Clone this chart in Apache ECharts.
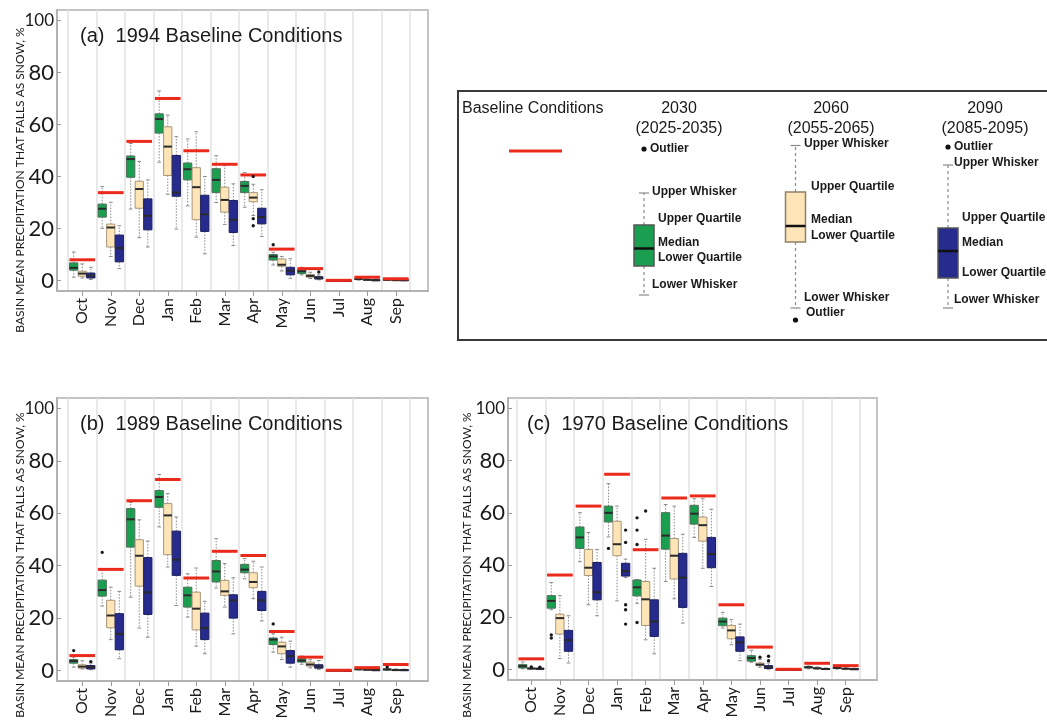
<!DOCTYPE html>
<html>
<head>
<meta charset="utf-8">
<title>Basin mean precipitation that falls as snow</title>
<script src="https://cdn.jsdelivr.net/npm/echarts@6/dist/echarts.min.js"></script>
<style>
  html, body { margin: 0; padding: 0; background: #ffffff; }
  #chart { width: 1047px; height: 722px; }
</style>
</head>
<body>
<div id="chart"></div>
<script>
// ---- categories and tick labels ----
const months = ['Oct', 'Nov', 'Dec', 'Jan', 'Feb', 'Mar', 'Apr', 'May', 'Jun', 'Jul', 'Aug', 'Sep'];
const yTicks = [0, 20, 40, 60, 80, 100];

// ---- box statistics per month: [lower whisker, lower quartile, median, upper quartile, upper whisker] ----
// (a) 1994 baseline
const snow1994_2030 = [
  [1.3, 4.0, 4.9, 6.8, 11.0], [20.1, 24.4, 27.6, 29.4, 36.1], [27.5, 39.7, 46.7, 47.9, 52.7],
  [45.5, 56.7, 62.1, 64.1, 72.9], [28.7, 38.7, 42.8, 45.2, 54.4], [30.0, 33.8, 38.7, 43.0, 48.0],
  [28.2, 33.8, 36.4, 38.1, 41.5], [6.0, 7.9, 9.3, 10.0, 10.9], [2.2, 2.7, 3.6, 4.2, 5.1],
  [0, 0, 0, 0.05, 0.1], [0.2, 0.4, 0.6, 0.8, 1.1], [0.1, 0.2, 0.3, 0.5, 0.7]
];
const snow1994_2060 = [
  [1.0, 1.7, 2.7, 3.6, 6.4], [9.3, 12.9, 20.4, 21.7, 30.1], [16.5, 27.8, 35.2, 38.2, 45.8],
  [33.2, 40.4, 51.5, 59.1, 63.6], [16.7, 23.4, 35.9, 43.4, 57.2], [21.6, 26.3, 31.0, 35.9, 44.2],
  [25.0, 30.3, 31.9, 33.8, 37.0], [3.7, 5.5, 6.1, 8.3, 9.3], [0.8, 1.3, 1.8, 2.3, 3.2],
  [0, 0, 0, 0.05, 0.1], [0.1, 0.2, 0.3, 0.5, 0.8], [0, 0.1, 0.2, 0.3, 0.5]
];
const snow1994_2090 = [
  [0.4, 1.0, 1.9, 2.9, 5.1], [4.6, 7.2, 12.5, 17.5, 21.1], [12.9, 19.5, 24.9, 31.4, 38.7],
  [19.8, 32.4, 33.8, 48.1, 55.3], [10.3, 18.9, 25.5, 32.8, 40.0], [13.5, 18.5, 23.4, 30.8, 37.2],
  [17.0, 21.8, 24.4, 27.8, 34.9], [0.9, 2.2, 3.8, 5.1, 8.4], [0.3, 0.6, 1.0, 1.5, 2.2],
  [0, 0, 0, 0.05, 0.1], [0, 0.1, 0.2, 0.3, 0.6], [0, 0.1, 0.2, 0.3, 0.5]
];
const baseline1994 = [8.0, 33.8, 53.5, 70.0, 49.9, 44.7, 40.6, 12.1, 4.6, 0.1, 1.3, 0.7];
// outliers: [month index, period index (0 = 2030, 1 = 2060, 2 = 2090), value]
const outliers1994 = [[7, 0, 13.8], [6, 1, 40.0], [6, 1, 23.8], [6, 1, 21.1], [8, 2, 3.3]];

// (b) 1989 baseline
const snow1989_2030 = [
  [1.3, 2.8, 3.6, 4.2, 5.1], [24.6, 28.4, 30.7, 34.5, 38.5], [28.0, 47.1, 57.7, 61.8, 64.1],
  [54.8, 62.3, 66.2, 68.7, 74.8], [20.4, 24.2, 28.7, 31.8, 36.9], [31.5, 33.8, 37.8, 42.0, 50.3],
  [35.0, 37.3, 38.5, 40.5, 42.7], [7.0, 9.9, 11.8, 12.4, 14.0], [2.4, 3.2, 3.8, 4.5, 5.5],
  [0, 0, 0, 0.05, 0.1], [0.2, 0.3, 0.5, 0.7, 1.0], [0.1, 0.3, 0.4, 0.6, 1.0]
];
const snow1989_2060 = [
  [0.6, 0.9, 1.5, 2.2, 3.7], [11.8, 16.3, 21.0, 26.8, 31.8], [16.2, 32.2, 43.8, 49.9, 57.5],
  [39.5, 44.2, 59.2, 63.7, 67.5], [9.3, 15.5, 23.6, 29.9, 39.1], [24.2, 28.7, 30.2, 34.4, 40.8],
  [27.4, 31.6, 33.8, 37.3, 41.7], [4.2, 6.4, 9.2, 10.8, 12.7], [1.0, 1.7, 2.3, 3.2, 4.1],
  [0, 0, 0, 0.05, 0.1], [0.1, 0.2, 0.3, 0.5, 0.8], [0, 0.1, 0.2, 0.3, 0.6]
];
const snow1989_2090 = [
  [0.3, 0.6, 1.3, 1.9, 2.8], [4.5, 7.9, 14.0, 21.7, 30.2], [12.7, 21.4, 29.8, 43.1, 49.4],
  [24.8, 36.3, 42.3, 53.2, 58.6], [6.4, 11.8, 16.2, 21.9, 26.4], [14.0, 20.0, 26.8, 28.9, 35.4],
  [18.9, 22.9, 26.8, 30.2, 39.5], [1.3, 2.8, 5.5, 7.6, 11.2], [0.4, 0.9, 1.5, 2.2, 3.8],
  [0, 0, 0, 0.05, 0.1], [0, 0.1, 0.2, 0.3, 0.6], [0, 0.1, 0.2, 0.3, 0.5]
];
const baseline1989 = [5.7, 38.6, 64.8, 72.9, 35.3, 45.5, 43.9, 14.9, 5.1, 0.1, 1.1, 2.3];
const outliers1989 = [[0, 0, 7.6], [1, 0, 45.1], [7, 0, 17.8], [0, 2, 3.4], [11, 0, 1.3]];

// (c) 1970 baseline
const snow1970_2030 = [
  [0.3, 0.6, 1.3, 1.9, 2.9], [22.9, 23.5, 26.3, 28.3, 33.3], [41.3, 46.4, 50.6, 54.6, 60.1],
  [50.8, 56.5, 60.0, 62.6, 71.2], [25.4, 28.2, 31.5, 34.3, 34.5], [33.7, 46.1, 51.3, 60.1, 63.2],
  [50.6, 55.7, 59.7, 62.9, 65.4], [15.9, 16.8, 18.4, 19.7, 21.9], [2.8, 3.2, 4.4, 5.3, 7.4],
  [0, 0, 0, 0.05, 0.1], [0.3, 0.6, 0.9, 1.1, 1.4], [0.2, 0.4, 0.6, 0.8, 1.1]
];
const snow1970_2060 = [
  [0, 0.2, 0.4, 0.6, 1.0], [4.2, 13.6, 19.7, 21.2, 28.3], [24.8, 36.0, 39.0, 46.0, 52.5],
  [26.3, 43.6, 48.0, 56.8, 62.6], [11.4, 16.9, 26.9, 33.7, 49.9], [27.1, 34.7, 43.6, 50.2, 62.6],
  [38.8, 49.2, 55.3, 58.4, 65.4], [9.5, 11.8, 15.0, 16.9, 19.1], [0.9, 1.5, 1.9, 2.5, 3.8],
  [0, 0, 0, 0.05, 0.1], [0.1, 0.3, 0.5, 0.7, 1.0], [0, 0.2, 0.3, 0.5, 0.8]
];
const snow1970_2090 = [
  [0, 0.1, 0.3, 0.5, 0.8], [2.5, 7.0, 11.2, 15.0, 20.6], [20.6, 26.7, 29.6, 41.0, 46.0],
  [35.2, 35.8, 37.7, 40.7, 42.3], [6.0, 12.7, 18.4, 26.7, 38.8], [17.8, 23.8, 35.2, 44.5, 51.8],
  [31.8, 39.0, 44.2, 50.6, 61.4], [3.4, 7.0, 10.4, 12.5, 17.4], [0.1, 0.4, 0.9, 1.5, 2.5],
  [0, 0, 0, 0.05, 0.1], [0, 0.1, 0.2, 0.4, 0.6], [0, 0.1, 0.2, 0.3, 0.5]
];
const baseline1970 = [4.1, 36.2, 62.6, 74.8, 45.9, 65.7, 66.5, 24.8, 8.6, 0.1, 2.4, 1.5];
const outliers1970 = [
  [1, 0, 13.3], [1, 0, 12.1], [3, 0, 46.4],
  [4, 0, 58.1], [4, 0, 53.4], [4, 0, 47.9], [4, 0, 18.0], [4, 1, 60.7],
  [3, 2, 53.4], [3, 2, 48.7], [3, 2, 24.8], [3, 2, 22.9], [3, 2, 17.4],
  [8, 1, 4.7], [8, 2, 5.1], [8, 2, 3.4], [0, 1, 1.0], [0, 2, 0.9]
];

// ---- styling ----
const periodFill = ['#1a9e50', '#fde5b8', '#262b8d'];
const periodBorder = ['#4f6f5a', '#a8967a', '#1c1f5c'];
const baselineRed = '#ec2a1c';
const axisGrey = '#b3b3b3';
const yName = 'BASIN MEAN PRECIPITATION THAT FALLS AS SNOW, %';

// ---- panel layout ----
const panels = [
  { title: '(a)  1994 Baseline Conditions', stats: [snow1994_2030, snow1994_2060, snow1994_2090],
    baseline: baseline1994, outliers: outliers1994,
    frame: { left: 57, top: 10, width: 371, height: 281 }, plot: { left: 68, width: 342 },
    titlePos: [80, 36], namePos: [20, 180] },
  { title: '(b)  1989 Baseline Conditions', stats: [snow1989_2030, snow1989_2060, snow1989_2090],
    baseline: baseline1989, outliers: outliers1989,
    frame: { left: 57, top: 398, width: 371, height: 283 }, plot: { left: 68, width: 342 },
    titlePos: [80, 424], namePos: [20, 565] },
  { title: '(c)  1970 Baseline Conditions', stats: [snow1970_2030, snow1970_2060, snow1970_2090],
    baseline: baseline1970, outliers: outliers1970,
    frame: { left: 508, top: 398, width: 369, height: 282 }, plot: { left: 517, width: 343 },
    titlePos: [527, 424], namePos: [467, 565] }
];

// ---- renderers (custom series, positioned through the axes) ----
function slotX(api, idx, slot) {
  const center = api.coord([idx, 0])[0];
  const band = api.size([1, 0])[0];
  return { cx: center + (slot - 1) * band * 0.3, band: band };
}

function boxItem(slot) {
  return function (params, api) {
    const idx = api.value(0);
    const pos = slotX(api, idx, slot);
    const half = pos.band * 0.145;
    const capHalf = half * 0.45;
    const y = v => api.coord([idx, v])[1];
    const yMin = y(api.value(1)), yQ1 = y(api.value(2)), yMed = y(api.value(3));
    const yQ3 = y(api.value(4)), yMax = y(api.value(5));
    const cx = pos.cx;
    const whisker = { stroke: '#8a8a8a', lineWidth: 1, lineDash: [1.5, 1.5] };
    const cap = { stroke: '#8a8a8a', lineWidth: 1 };
    return {
      type: 'group',
      children: [
        { type: 'line', shape: { x1: cx, y1: yQ3, x2: cx, y2: yMax }, style: whisker },
        { type: 'line', shape: { x1: cx, y1: yQ1, x2: cx, y2: yMin }, style: whisker },
        { type: 'line', shape: { x1: cx - capHalf, y1: yMax, x2: cx + capHalf, y2: yMax }, style: cap },
        { type: 'line', shape: { x1: cx - capHalf, y1: yMin, x2: cx + capHalf, y2: yMin }, style: cap },
        { type: 'rect', shape: { x: cx - half, y: yQ3, width: half * 2, height: Math.max(yQ1 - yQ3, 1) },
          style: { fill: periodFill[slot], stroke: periodBorder[slot], lineWidth: 1 } },
        { type: 'line', shape: { x1: cx - half, y1: yMed, x2: cx + half, y2: yMed },
          style: { stroke: '#2a2a2a', lineWidth: 2 } }
      ]
    };
  };
}

function baselineItem(params, api) {
  const idx = api.value(0);
  const p = api.coord([idx, api.value(1)]);
  const band = api.size([1, 0])[0];
  return { type: 'line', shape: { x1: p[0] - band * 0.45, y1: p[1], x2: p[0] + band * 0.45, y2: p[1] },
           style: { stroke: baselineRed, lineWidth: 3 } };
}

function outlierItem(params, api) {
  const idx = api.value(0);
  const pos = slotX(api, idx, api.value(1));
  const yv = api.coord([idx, api.value(2)])[1];
  return { type: 'circle', shape: { cx: pos.cx, cy: yv, r: 1.7 }, style: { fill: '#1a1a1a' } };
}

// ---- build option ----
const grids = [], xAxes = [], yAxes = [], series = [], graphics = [];

panels.forEach(p => {
  const fi = grids.length;
  // frame grid: box outline, value axis with labels
  grids.push({ left: p.frame.left, top: p.frame.top, width: p.frame.width, height: p.frame.height,
               show: true, borderColor: '#c4c4c4', borderWidth: 2, backgroundColor: 'transparent' });
  // plotting grid: month bands
  grids.push({ left: p.plot.left, top: p.frame.top, width: p.plot.width, height: p.frame.height });

  xAxes.push({ gridIndex: fi, type: 'value', min: 0, max: 1,
    axisLine: { show: true, onZero: false, lineStyle: { color: axisGrey, width: 2 } },
    axisTick: { show: false }, axisLabel: { show: false }, splitLine: { show: false } });
  yAxes.push({ gridIndex: fi, type: 'value', min: -4, max: 104,
    axisLine: { show: true, onZero: false, lineStyle: { color: axisGrey, width: 2 } },
    axisTick: { show: true, inside: true, length: 4, customValues: yTicks, lineStyle: { color: '#9a9a9a' } },
    axisLabel: { customValues: yTicks, margin: 3, fontFamily: 'Lato', fontSize: 22, color: '#1a1a1a',
      formatter: v => (v === 100 ? '{s|100}' : String(v)),
      rich: { s: { fontFamily: 'Lato', fontSize: 17, color: '#1a1a1a' } } },
    splitLine: { show: false } });

  xAxes.push({ gridIndex: fi + 1, type: 'category', data: months, boundaryGap: true,
    axisLine: { show: false, onZero: false },
    axisTick: { show: true, alignWithLabel: true, interval: 0, length: 5, lineStyle: { color: '#9a9a9a' } },
    axisLabel: { interval: 0, rotate: 90, margin: 7, fontFamily: 'Lato', fontSize: 16, color: '#1a1a1a' },
    splitLine: { show: true, interval: 0, lineStyle: { color: '#e2e2e2', width: 1.5 } } });
  yAxes.push({ gridIndex: fi + 1, type: 'value', min: -4, max: 104, show: false });

  p.stats.forEach((st, s) => {
    series.push({ type: 'custom', name: ['2030', '2060', '2090'][s], xAxisIndex: fi + 1, yAxisIndex: fi + 1,
      renderItem: boxItem(s), data: st.map((v, i) => [i].concat(v)),
      encode: { x: 0, y: [1, 2, 3, 4, 5] }, clip: false, silent: true, z: 2 });
  });
  series.push({ type: 'custom', name: 'Baseline', xAxisIndex: fi + 1, yAxisIndex: fi + 1,
    renderItem: baselineItem, data: p.baseline.map((v, i) => [i, v]),
    encode: { x: 0, y: 1 }, clip: false, silent: true, z: 3 });
  series.push({ type: 'custom', name: 'Outlier', xAxisIndex: fi + 1, yAxisIndex: fi + 1,
    renderItem: outlierItem, data: p.outliers,
    encode: { x: 0, y: 2 }, clip: false, silent: true, z: 4 });

  graphics.push({ type: 'text', x: p.titlePos[0], y: p.titlePos[1], silent: true, z: 100,
    style: { text: p.title, font: '20px "Liberation Sans", Arial, sans-serif', fill: '#1a1a1a',
             align: 'left', verticalAlign: 'middle' } });
  graphics.push({ type: 'text', x: p.namePos[0], y: p.namePos[1], rotation: Math.PI / 2, silent: true, z: 100,
    style: { text: yName, font: '12px Lato, sans-serif', fill: '#1a1a1a',
             align: 'center', verticalAlign: 'middle' } });
});

// ---- key panel ----
const keyFont = 'bold 12px "Liberation Sans", Arial, sans-serif';
const headFont = '16px "Liberation Sans", Arial, sans-serif';

function keyText(text, x, y, font, align) {
  return { type: 'text', x: x, y: y, silent: true,
    style: { text: text, font: font, fill: '#1a1a1a', align: align || 'left', verticalAlign: 'middle' } };
}

// glyph showing how one period's box is read; g holds the vertical layout of the glyph
function keyGlyph(cx, g, fill, border) {
  const half = 10, capHalf = 5;
  return [
    { type: 'line', shape: { x1: cx, y1: g.q3, x2: cx, y2: g.hi }, style: { stroke: '#8a8a8a', lineWidth: 1.2, lineDash: [3, 3] } },
    { type: 'line', shape: { x1: cx, y1: g.q1, x2: cx, y2: g.lo }, style: { stroke: '#8a8a8a', lineWidth: 1.2, lineDash: [3, 3] } },
    { type: 'line', shape: { x1: cx - capHalf, y1: g.hi, x2: cx + capHalf, y2: g.hi }, style: { stroke: '#8a8a8a', lineWidth: 1.2 } },
    { type: 'line', shape: { x1: cx - capHalf, y1: g.lo, x2: cx + capHalf, y2: g.lo }, style: { stroke: '#8a8a8a', lineWidth: 1.2 } },
    { type: 'rect', shape: { x: cx - half, y: g.q3, width: half * 2, height: g.q1 - g.q3 }, style: { fill: fill, stroke: border, lineWidth: 1.5 } },
    { type: 'line', shape: { x1: cx - half, y1: g.med, x2: cx + half, y2: g.med }, style: { stroke: '#111', lineWidth: 2.5 } },
    { type: 'circle', shape: { cx: cx, cy: g.out, r: 2.6 }, style: { fill: '#111' } }
  ];
}

const keyChildren = [
  { type: 'rect', shape: { x: 458, y: 91, width: 640, height: 249 }, style: { fill: 'none', stroke: '#3a3a3a', lineWidth: 2 } },
  keyText('Baseline Conditions', 462, 109, headFont),
  { type: 'line', shape: { x1: 509, y1: 151, x2: 562, y2: 151 }, style: { stroke: baselineRed, lineWidth: 3 } },
  keyText('2030', 679, 109, headFont, 'center'),
  keyText('(2025-2035)', 679, 129, headFont, 'center'),
  keyText('2060', 831, 109, headFont, 'center'),
  keyText('(2055-2065)', 831, 129, headFont, 'center'),
  keyText('2090', 985, 109, headFont, 'center'),
  keyText('(2085-2095)', 985, 129, headFont, 'center')
].concat(
  keyGlyph(644, { out: 149, hi: 193, q3: 225, med: 248.5, q1: 266, lo: 295 }, periodFill[0], '#555'),
  [
    keyText('Outlier', 650, 149, keyFont),
    keyText('Upper Whisker', 652, 192, keyFont),
    keyText('Upper Quartile', 658, 219, keyFont),
    keyText('Median', 658, 243, keyFont),
    keyText('Lower Quartile', 658, 258, keyFont),
    keyText('Lower Whisker', 652, 285, keyFont)
  ],
  keyGlyph(795.5, { out: 320, hi: 145.5, q3: 192, med: 226, q1: 242, lo: 308 }, periodFill[1], '#8f8068'),
  [
    keyText('Upper Whisker', 804, 144, keyFont),
    keyText('Upper Quartile', 811, 187, keyFont),
    keyText('Median', 811, 220, keyFont),
    keyText('Lower Quartile', 811, 236, keyFont),
    keyText('Lower Whisker', 804, 298, keyFont),
    keyText('Outlier', 806, 313, keyFont)
  ],
  keyGlyph(948, { out: 147, hi: 165, q3: 228, med: 251, q1: 278, lo: 308 }, periodFill[2], '#555'),
  [
    keyText('Outlier', 954, 147, keyFont),
    keyText('Upper Whisker', 954, 163, keyFont),
    keyText('Upper Quartile', 962, 218, keyFont),
    keyText('Median', 962, 243, keyFont),
    keyText('Lower Quartile', 962, 273, keyFont),
    keyText('Lower Whisker', 954, 300, keyFont)
  ]
);
graphics.push({ type: 'group', children: keyChildren, silent: true, z: 100 });

const chart = echarts.init(document.getElementById('chart'), null, { renderer: 'canvas' });
chart.setOption({
  backgroundColor: '#ffffff',
  animation: false,
  tooltip: { show: false },
  grid: grids,
  xAxis: xAxes,
  yAxis: yAxes,
  series: series,
  graphic: graphics
});
</script>
</body>
</html>
